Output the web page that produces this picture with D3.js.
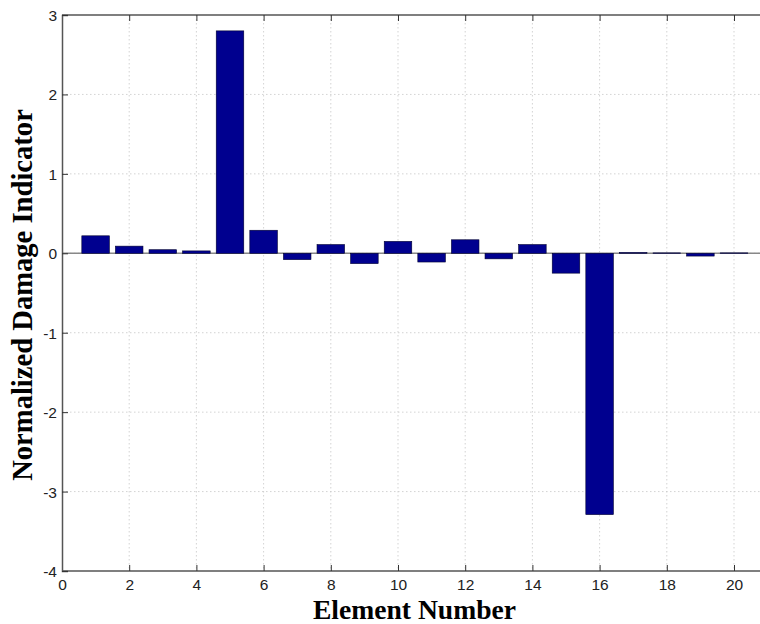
<!DOCTYPE html>
<html><head><meta charset="utf-8">
<script src="https://cdn.jsdelivr.net/npm/d3@7"></script>
<style>body{margin:0;background:#fff;} svg{display:block;}</style>
</head><body>
<svg id="c" width="760" height="624"></svg>
<script>
const elements = [1,2,3,4,5,6,7,8,9,10,11,12,13,14,15,16,17,18,19,20];
const values = [0.22,0.09,0.045,0.03,2.8,0.29,-0.08,0.11,-0.13,0.15,-0.11,0.17,-0.07,0.11,-0.25,-3.29,0.01,0.005,-0.035,0.005];
const xTicks = [0,2,4,6,8,10,12,14,16,18,20];
const yTicks = [-4,-3,-2,-1,0,1,2,3];
const xTitle = "Element Number";
const yTitle = "Normalized Damage Indicator";

const svg = d3.select("#c");
const L = 62, T = 15, B = 571;
const x = d3.scaleLinear().domain([0,21]).range([L, L + 21*33.6]);
const y = d3.scaleLinear().domain([-4,3]).range([B, T]);
const fmt = d => String(d);

// grid
const g = svg.append("g");
g.selectAll(".vx").data(xTicks.filter(d=>d>0)).enter().append("line")
  .attr("x1",d=>x(d)).attr("x2",d=>x(d)).attr("y1",T).attr("y2",B)
  .attr("stroke","#c8c8c8").attr("stroke-width",0.8).attr("stroke-dasharray","1.5,2.5");
g.selectAll(".hy").data(yTicks.filter(d=>d>-4 && d<3)).enter().append("line")
  .attr("x1",L).attr("x2",760).attr("y1",d=>y(d)).attr("y2",d=>y(d))
  .attr("stroke","#c8c8c8").attr("stroke-width",0.8).attr("stroke-dasharray","1.5,2.5");

// baseline
svg.append("line").attr("x1",L).attr("x2",760).attr("y1",y(0)).attr("y2",y(0))
  .attr("stroke","#888").attr("stroke-width",1.5);

// bars
const bw = 0.82;
svg.selectAll(".bar").data(elements).enter().append("rect")
  .attr("x",(d)=>x(d - bw/2))
  .attr("width",x(bw)-x(0))
  .attr("y",(d,i)=>y(Math.max(0,values[i])))
  .attr("height",(d,i)=>Math.abs(y(values[i])-y(0)))
  .attr("fill","#00008F").attr("stroke","#000030").attr("stroke-width",0.6);

// axes
const xb = d3.axisBottom(x).tickValues(xTicks).tickSize(-6).tickPadding(8).tickFormat(fmt);
const xa = svg.append("g").attr("transform",`translate(0,${B})`).call(xb);
const xt = d3.axisTop(x).tickValues(xTicks).tickSize(-6).tickFormat("");
const xta = svg.append("g").attr("transform",`translate(0,${T})`).call(xt);
const yl = d3.axisLeft(y).tickValues(yTicks).tickSize(-6).tickPadding(5).tickFormat(fmt);
const ya = svg.append("g").attr("transform",`translate(${L},0)`).call(yl);
[xa,xta,ya].forEach(a=>{
  a.select(".domain").attr("stroke","#555").attr("stroke-width",1.5);
  a.selectAll(".tick line").attr("stroke","#333").attr("stroke-width",1);
  a.selectAll("text").attr("font-family","Liberation Sans, Arial, sans-serif").attr("font-size",15.5).attr("fill","#222");
});
xa.select(".domain").attr("d",`M${L},0H760`);
xta.select(".domain").attr("d",`M${L},0H760`);
xa.selectAll(".tick text").attr("dy","0.71em");
ya.selectAll(".tick text").attr("dy","0.35em");

// titles
svg.append("text").attr("x",414.5).attr("y",619).attr("text-anchor","middle")
  .attr("font-family","Liberation Serif, Times New Roman, serif").attr("font-weight","bold")
  .attr("font-size",27.6).attr("fill","#000").text(xTitle);
svg.append("text").attr("transform","translate(32,295) rotate(-90)").attr("text-anchor","middle")
  .attr("font-family","Liberation Serif, Times New Roman, serif").attr("font-weight","bold")
  .attr("font-size",28.6).attr("fill","#000").text(yTitle);
</script>
</body></html>
